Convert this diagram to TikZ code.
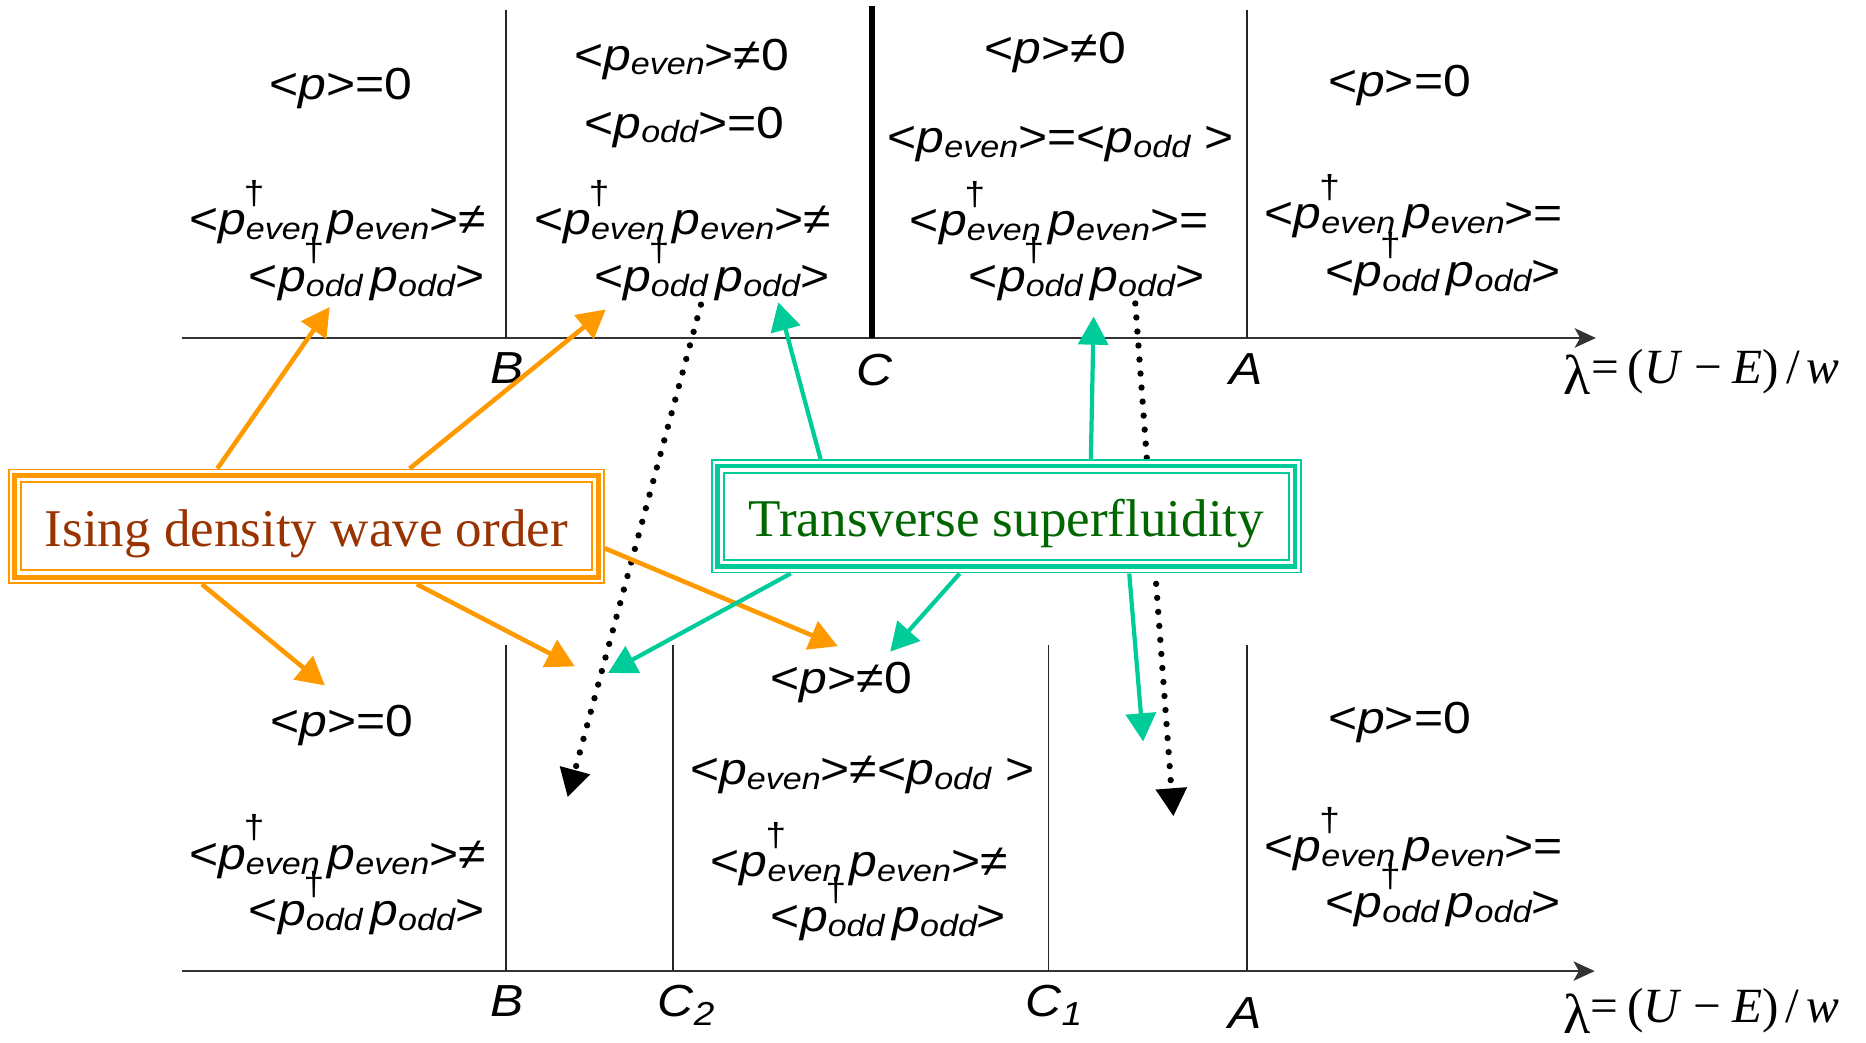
\documentclass[tikz,border=0pt]{standalone}
\usepackage{graphicx}
\usepackage{fontspec}
\setmainfont{Liberation Sans}
\newfontfamily\tms{Liberation Serif}
\usetikzlibrary{arrows.meta,calc}
\definecolor{orng}{RGB}{255,153,0}
\definecolor{tealc}{RGB}{0,204,153}
\definecolor{brn}{RGB}{153,51,0}
\definecolor{dgrn}{RGB}{0,102,0}
\newcommand{\Sbs}[1]{\raisebox{-1.5pt}{\fontsize{9.7}{10}\selectfont\itshape #1}}
\newcommand{\Pit}{{\itshape p}}
\newcommand{\Psb}[1]{\Pit\Sbs{#1}}
\newcommand{\Pdg}[1]{\Pit\rlap{\hspace{-0.6pt}\raisebox{9.6pt}{\fontsize{10.5}{11}\selectfont\upshape †}}\Sbs{#1}}
\newcommand{\Vs}[1]{\scalebox{1}[0.9]{#1}}
\newcommand{\Vl}[1]{\scalebox{1}[0.9]{#1}}
\newcommand{\Even}[1]{\Vs{<\Pdg{even}\hspace{2.2pt}\Psb{even}>#1}}
\newcommand{\Odd}{\Vs{<\Pdg{odd}\hspace{2.2pt}\Psb{odd}>}}
\newcommand{\Lam}{\raisebox{-3.3pt}{\fontsize{16}{16}\selectfont λ}=\hspace{2.5pt}(\textit{U}\hspace{3.5pt}−\hspace{3pt}\textit{E})\hspace{2pt}/\hspace{2pt}\textit{w}}
\begin{document}
\begin{tikzpicture}[x=0.0119cm, y=-0.0119cm,
  txt/.style={anchor=base, inner sep=0pt, font=\fontsize{14.2}{16}\selectfont},
  axl/.style={anchor=base, inner sep=0pt, font=\fontsize{14.2}{16}\selectfont\itshape},
  lam/.style={anchor=base west, inner sep=0pt, font=\tms\fontsize{14}{16}\selectfont},
  axisline/.style={line width=0.7pt, black!80, -{Stealth[length=6pt,width=5.5pt,inset=1.5pt]}},
  vln/.style={line width=0.45pt, black!85},
  oarr/.style={orng, line width=1.3pt, -{Triangle[length=8pt,width=8.5pt]}},
  tarr/.style={tealc, line width=1.2pt, -{Triangle[length=8pt,width=8.5pt]}},
  darr/.style={black, line width=1.8pt, dash pattern=on 0pt off 4pt, line cap=round, -{Triangle[length=8pt,width=8.5pt]}},
  obox/.style={draw=orng, line width=0.5pt, fill=white, inner sep=0pt, text height=11.2pt, text depth=0pt, font=\tms\fontsize{15.1}{17}\selectfont, text=brn},
  tbox/.style={draw=tealc, line width=0.5pt, fill=white, inner sep=0pt, text height=11.2pt, text depth=0pt, font=\tms\fontsize{15.1}{17}\selectfont, text=dgrn},
]
\useasboundingbox (0,0) rectangle (1568,876);

% ---------- top diagram ----------
\coordinate (ax1s) at (153,284);
\coordinate (ax1e) at (1341,284);
\draw[axisline] (ax1s) -- (ax1e);
\coordinate (tB0) at (425,8);    \coordinate (tB1) at (425,284);
\coordinate (tC0) at (732.5,5);  \coordinate (tC1) at (732.5,284);
\coordinate (tA0) at (1047.6,8); \coordinate (tA1) at (1047.6,284);
\draw[vln] (tB0) -- (tB1);
\draw[black, line width=1.8pt] (tC0) -- (tC1);
\draw[vln] (tA0) -- (tA1);

\node[axl] (lB1) at (426,322) {\Vl{B}};
\node[axl] (lC1) at (734.6,324) {\Vl{C}};
\node[axl] (lA1) at (1047,323) {\Vl{A}};
\node[lam] (lam1) at (1313.5,322) {\Lam};

\node[txt] (r1a) at (286.5,84) {\Vs{<\Pit>=0}};
\node[txt] (r1b) at (283.5,197) {\Even{≠}};
\node[txt] (r1c) at (308,245) {\Odd};
\node[txt] (r2a) at (572.7,59) {\Vs{<\Psb{even}>≠0}};
\node[txt] (r2b) at (575,116) {\Vs{<\Psb{odd}>=0}};
\node[txt] (r2c) at (573.5,197) {\Even{≠}};
\node[txt] (r2d) at (598,245) {\Odd};
\node[txt] (r3a) at (886.7,53) {\Vs{<\Pit>≠0}};
\node[txt] (r3b) at (891,128) {\Vs{<\Psb{even}>=<\Psb{odd} >}};
\node[txt] (r3c) at (890,198) {\Even{=}};
\node[txt] (r3d) at (913,245) {\Odd};
\node[txt] (r4a) at (1176,81) {\Vs{<\Pit>=0}};
\node[txt] (r4b) at (1188,192) {\Even{=}};
\node[txt] (r4c) at (1212.6,241) {\Odd};

% ---------- bottom diagram ----------
\coordinate (ax2s) at (153,816);
\coordinate (ax2e) at (1340,816);
\draw[axisline] (ax2s) -- (ax2e);
\coordinate (bB0) at (425,542);    \coordinate (bB1) at (425,816);
\coordinate (bC20) at (565.4,542); \coordinate (bC21) at (565.4,816);
\coordinate (bC10) at (881,542);   \coordinate (bC11) at (881,816);
\coordinate (bA0) at (1047.6,542); \coordinate (bA1) at (1047.6,816);
\draw[vln] (bB0) -- (bB1);
\draw[vln] (bC20) -- (bC21);
\draw[vln] (bC10) -- (bC11);
\draw[vln] (bA0) -- (bA1);

\node[axl] (lB2) at (426,854) {\Vl{B}};
\node[axl] (lC2) at (568,854) {\Vl{C\rlap{\raisebox{-2.8pt}{\fontsize{10.5}{10}\selectfont 2}}}};
\node[axl] (lC12) at (877,854) {\Vl{C\rlap{\raisebox{-2.8pt}{\fontsize{10.5}{10}\selectfont 1}}}};
\node[axl] (lA2) at (1046.6,864) {\Vl{A}};
\node[lam] (lam2) at (1313,859) {\Lam};

\node[txt] (b1a) at (287.5,619) {\Vs{<\Pit>=0}};
\node[txt] (b1b) at (283.5,730.5) {\Even{≠}};
\node[txt] (b1c) at (308,778) {\Odd};
\node[txt] (b3a) at (707,583) {\Vs{<\Pit>≠0}};
\node[txt] (b3b) at (724.4,659) {\Vs{<\Psb{even}>≠<\Psb{odd} >}};
\node[txt] (b3c) at (722,736.7) {\Even{≠}};
\node[txt] (b3d) at (746.6,783) {\Odd};
\node[txt] (b5a) at (1176,616) {\Vs{<\Pit>=0}};
\node[txt] (b5b) at (1188,724) {\Even{=}};
\node[txt] (b5c) at (1212.6,771) {\Odd};

% ---------- dotted arrows ----------
\coordinate (d1s) at (589,256);  \coordinate (d1t) at (477,670);
\coordinate (d2s) at (954,255);  \coordinate (d2t) at (986,686);
\draw[darr] (d1s) -- (d1t);
\draw[darr] (d2s) -- (d2t);

% ---------- boxes ----------
\node[obox, minimum width=169.4pt, minimum height=32.4pt] (ising) at (257.4,442.3) {Ising density wave order};
\draw[orng, line width=1.3pt] ([shift={(5.5,5.8)}]ising.north west) rectangle ([shift={(-5.5,-5.8)}]ising.south east);
\draw[orng, line width=0.5pt] ([shift={(11,11.6)}]ising.north west) rectangle ([shift={(-11,-11.6)}]ising.south east);

\node[tbox, minimum width=167.6pt, minimum height=32.0pt] (trans) at (845.65,433.9) {Transverse superfluidity};
\draw[tealc, line width=1.3pt] ([shift={(5.5,5.8)}]trans.north west) rectangle ([shift={(-5.5,-5.8)}]trans.south east);
\draw[tealc, line width=0.5pt] ([shift={(11,11.6)}]trans.north west) rectangle ([shift={(-11,-11.6)}]trans.south east);

% ---------- orange arrows ----------
\coordinate (o1t) at (277,258);
\coordinate (o2t) at (509,260);
\coordinate (o3t) at (273,576);
\coordinate (o4t) at (483,560);
\coordinate (o5t) at (704,543);
\draw[oarr] ($(ising.north west)!0.351!(ising.north east)$) -- (o1t);
\draw[oarr] ($(ising.north west)!0.673!(ising.north east)$) -- (o2t);
\draw[oarr] ($(ising.south west)!0.325!(ising.south east)$) -- (o3t);
\draw[oarr] ($(ising.south west)!0.685!(ising.south east)$) -- (o4t);
\draw[oarr] ($(ising.north east)!0.69!(ising.south east)$) -- (o5t);

% ---------- teal arrows ----------
\coordinate (t1t) at (654,254);
\coordinate (t2t) at (919,266);
\coordinate (t3t) at (511,565.5);
\coordinate (t4t) at (748,547.6);
\coordinate (t5t) at (960.6,623);
\draw[tarr] ($(trans.north west)!0.1855!(trans.north east)$) -- (t1t);
\draw[tarr] ($(trans.north west)!0.643!(trans.north east)$) -- (t2t);
\draw[tarr] ($(trans.south west)!0.135!(trans.south east)$) -- (t3t);
\draw[tarr] ($(trans.south west)!0.421!(trans.south east)$) -- (t4t);
\draw[tarr] ($(trans.south west)!0.708!(trans.south east)$) -- (t5t);
\end{tikzpicture}
\end{document}
